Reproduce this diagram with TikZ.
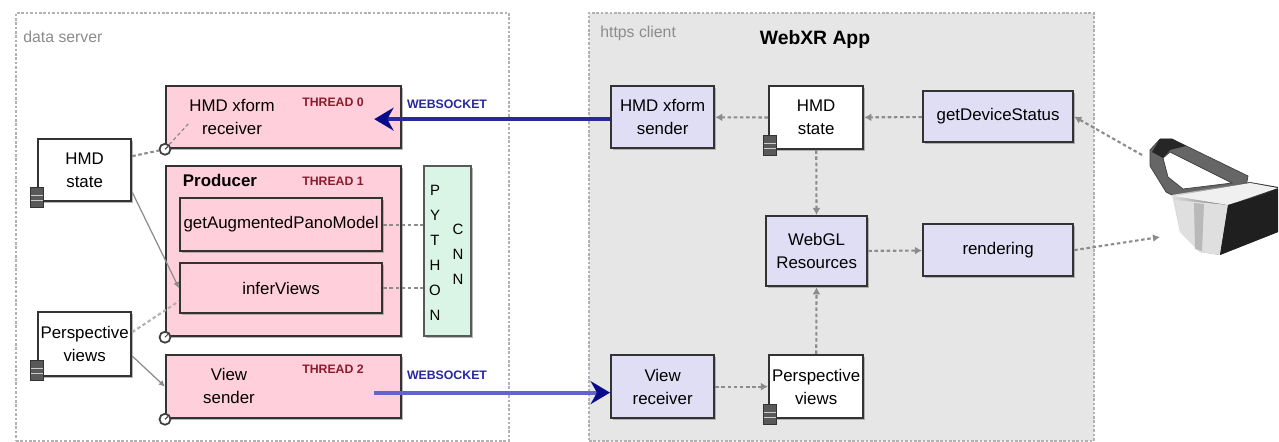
\documentclass[tikz,border=0pt]{standalone}
\usepackage{fontspec}
\setmainfont{Liberation Sans}
\usetikzlibrary{shapes.geometric,shadows,arrows.meta,calc}

\definecolor{threadpink}{RGB}{255,208,220}
\definecolor{clientlav}{RGB}{224,222,245}
\definecolor{cnngreen}{RGB}{218,245,230}
\definecolor{clientgray}{RGB}{230,230,230}
\definecolor{threadred}{RGB}{140,28,44}
\definecolor{wsblue}{RGB}{40,40,160}
\definecolor{wsnavy}{RGB}{10,10,140}
\definecolor{wslight}{RGB}{100,100,200}

\begin{document}
\begin{tikzpicture}[x=0.02cm, y=-0.02cm,
					every node/.style={font=\fontsize{9.6}{13}\selectfont, align=center, inner sep=0pt},
					boxsize/.style 2 args={minimum width=#1, minimum height=#2},
					group/.style={draw=black!30, line width=1pt, dash pattern=on 1.5pt off 1pt, anchor=north west},
					grouplabel/.style={font=\fontsize{9}{10}\selectfont, text=black!45, anchor=west},
					box/.style={draw=black!80, line width=1.3pt, anchor=north west,
						drop shadow={shadow xshift=0.8pt, shadow yshift=-1.2pt, fill=black!40, opacity=0.7}},
					thread/.style={box, fill=threadpink},
					client/.style={box, fill=clientlav},
					store/.style={box, fill=white},
					cnn/.style={box, fill=cnngreen, draw=black!65},
					threadlabel/.style={font=\fontsize{7}{8}\selectfont\bfseries, text=threadred},
					wslabel/.style={font=\fontsize{7}{8}\selectfont\bfseries, text=wsblue},
					link/.style={draw=black!45, line width=1.2pt, dash pattern=on 2pt off 1.5pt},
					flow/.style={link, -{Latex[length=4pt, width=4.5pt]}},
					feed/.style={draw=black!45, line width=0.7pt, -{Latex[length=3.5pt, width=3.5pt]}},
					ws/.style={draw=wsblue, line width=2.2pt, -{Stealth[length=11pt, width=13pt, color=wsnavy]}},
					db/.style={cylinder, shape border rotate=90, aspect=0.3, draw=black!80, fill=black!65,
						line width=0.5pt, minimum width=0.26cm, minimum height=0.4cm,
						path picture={\foreach \f in {0.38,0.62}
							\draw[white!80!black, line width=0.6pt]
								($(path picture bounding box.south west)!\f!(path picture bounding box.north west)$) --
								($(path picture bounding box.south east)!\f!(path picture bounding box.north east)$);}},
					clock/.style={circle, draw=black!75, fill=white, line width=1pt, minimum size=0.22cm,
						path picture={\draw[black!75, line width=0.6pt] (path picture bounding box.center) -- ++(3,-3);}}]
					\useasboundingbox (0,0) rectangle (1279,442);

					% the two hosts
					\node[group, fill=white, boxsize={9.86cm}{8.56cm}] (srv) at (15,12) {};
					\node[grouplabel] (srv-lbl) at (23,37) {data server};
					\node[group, fill=clientgray, boxsize={10.1cm}{8.56cm}] (cli) at (588,12) {};
					\node[grouplabel] (cli-lbl) at (600,33) {https client};
					\node[font=\fontsize{11}{12}\selectfont\bfseries] (app) at (815,40) {WebXR App};

					% server threads
					\node[thread, boxsize={4.7cm}{1.24cm}] (rcv) at (165,85) {};
					\node (rcv-txt) at (232,117) {HMD xform\\receiver};
					\node[threadlabel] (th0) at (333,102) {THREAD 0};
					\node[thread, boxsize={4.7cm}{3.4cm}] (prod) at (165,165) {};
					\node[font=\fontsize{9.6}{13}\selectfont\bfseries] (prod-txt) at (220,180) {Producer};
					\node[threadlabel] (th1) at (333,181) {THREAD 1};
					\node[thread, boxsize={4.04cm}{1.06cm}] (aug) at (179,197) {getAugmentedPanoModel};
					\node[thread, boxsize={4.04cm}{1cm}] (infer) at (179,262) {inferViews};
					\node[thread, boxsize={4.7cm}{1.26cm}] (snd) at (165,354) {};
					\node (snd-txt) at (229,386) {View\\sender};
					\node[threadlabel] (th2) at (333,369) {THREAD 2};

					% python side
					\node[cnn, boxsize={0.94cm}{3.4cm}] (py) at (423,165) {};
					\node[font=\fontsize{8.5}{14.2}\selectfont] (py-txt) at (435,253) {P\\Y\\T\\H\\O\\N};
					\node[font=\fontsize{8.5}{14.2}\selectfont] (cnn-txt) at (458,254) {C\\N\\N};

					% server stores
					\node[store, boxsize={1.86cm}{1.24cm}] (hmdL) at (37,138) {HMD\\state};
					\node[store, boxsize={1.86cm}{1.28cm}] (perspL) at (37,311) {Perspective\\views};
					\node[db] (hmdL-db) at (37,198) {};
					\node[db] (perspL-db) at (37,371) {};
					\node[clock] (clk0) at (rcv.south west) {};
					\node[clock] (clk1) at (prod.south west) {};
					\node[clock] (clk2) at (snd.south west) {};

					% client side
					\node[client, boxsize={2.06cm}{1.24cm}] (sndr) at (610,85) {HMD xform\\sender};
					\node[store, boxsize={1.88cm}{1.26cm}] (hmdR) at (768,85) {HMD\\state};
					\node[client, boxsize={3cm}{1.02cm}] (devst) at (922,90) {getDeviceStatus};
					\node[client, boxsize={2.02cm}{1.4cm}] (webgl) at (765,215) {WebGL\\Resources};
					\node[client, boxsize={3cm}{1.04cm}] (rend) at (922,223) {rendering};
					\node[client, boxsize={2.06cm}{1.26cm}] (vrcv) at (610,354) {View\\receiver};
					\node[store, boxsize={1.88cm}{1.26cm}] (perspR) at (768,354) {Perspective\\views};
					\node[db] (hmdR-db) at (770,146) {};
					\node[db] (perspR-db) at (770,415) {};

					% server wiring
					\coordinate (rcv-in) at (190,122);
					\draw[link] ([yshift=0.28cm]hmdL.east) -- (clk0);
					\draw[link, line width=0.7pt] (clk0) -- (rcv-in);
					\draw[feed] ([yshift=0.2cm]hmdL.south east) -- (infer.west);
					\draw[link, draw=black!30] ([yshift=0.24cm]perspL.east) -- ([yshift=-0.26cm]infer.west);
					\draw[feed] ([yshift=-0.24cm]perspL.east) -- (snd.west);
					\draw[link] (aug.east) -- (aug.east -| py.west);
					\draw[link] (infer.east) -- (infer.east -| py.west);

					% client wiring
					\draw[flow] (hmdR) -- (sndr);
					\draw[flow] (devst) -- (hmdR);
					\draw[flow] (hmdR) -- (webgl);
					\draw[flow] (webgl) -- (rend);
					\draw[flow] (perspR) -- (webgl);
					\draw[flow] (vrcv) -- (perspR);

					% websockets
					\draw[ws, shorten >=-0.56cm] ([yshift=-0.04cm]sndr.west) -- ([yshift=-0.04cm]rcv.east);
					\node[wslabel] (ws0) at (447,104) {WEBSOCKET};
					\draw[ws, draw=wslight, shorten <=-0.56cm] ([yshift=-0.12cm]snd.east) -- ([yshift=-0.12cm]vrcv.west);
					\node[wslabel] (ws1) at (447,375) {WEBSOCKET};

					% headset: strap loop, then the goggle body
					\draw[black!75, fill=black!60, even odd rule]
						(1150,150) -- (1160,139) -- (1172,139) -- (1248,176) -- (1246,187) -- (1182,200) -- (1166,192) -- (1150,166) -- cycle
						(1163,158) -- (1170,152) -- (1232,183) -- (1183,189) -- (1168,177) -- cycle;
					\fill[black!85] (1160,139) -- (1172,139) -- (1186,146) -- (1170,150) -- (1163,158) -- (1152,152) -- cycle;
					\shade[left color=gray!25, right color=black!90]
						(1172,195) -- (1250,182) -- (1278,187) -- (1278,232) -- (1220,255) -- (1200,252) -- (1180,232) -- cycle;
					\fill[gray!12] (1174,196) -- (1250,183) -- (1278,188) -- (1228,205) -- cycle;
					\fill[gray!25] (1175,200) -- (1228,205) -- (1220,255) -- (1200,252) -- (1180,232) -- cycle;
					\fill[gray!55] (1194,203) -- (1204,204) -- (1202,251) -- (1195,249) -- cycle;
					\fill[black!88] (1228,205) -- (1278,190) -- (1278,232) -- (1220,255) -- cycle;
					\coordinate (vr-in) at (1142,155);
					\coordinate (vr-out) at (1160,237);
					\draw[flow] (vr-in) -- (devst.east);
					\draw[flow] (rend.east) -- (vr-out);
				\end{tikzpicture}
\end{document}
